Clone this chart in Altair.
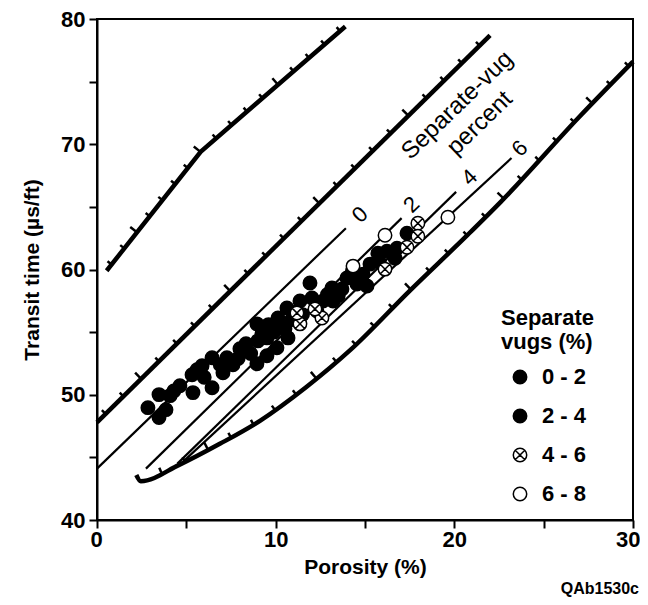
import altair as alt
import pandas as pd
import numpy as np

# ---------------- data ----------------
# scatter points: porosity (%) and transit time (us/ft) by separate-vug class
POR_02 = [2.85, 3.47, 4.09, 3.86, 3.47, 4.64, 5.32, 5.37, 5.88, 6.44, 7.05, 7.27, 7.61,
          8.00, 8.34, 8.95, 9.51, 10.07, 10.69, 4.3, 6.0, 7.9, 9.0, 9.9, 5.6, 6.9, 8.6]
TT_02 = [48.97, 50.01, 49.93, 48.81, 48.18, 50.72, 51.60, 50.17, 52.31, 52.95, 51.76, 52.95,
         52.39, 53.67, 54.07, 52.47, 53.11, 53.75, 54.54, 50.3, 51.4, 52.9, 54.3, 55.0,
         52.0, 52.4, 53.3]
POR_24 = [6.44, 8.95, 9.23, 9.51, 10.13, 10.63, 10.52, 11.36, 11.92, 12.03, 12.31, 12.65,
          13.15, 13.21, 13.71, 13.99, 14.55, 14.89, 15.11, 15.28, 15.72, 16.23, 16.68, 16.79, 17.35,
          9.6, 10.9, 12.9, 14.3, 15.8, 11.5, 10.3, 11.1, 13.5]
TT_24 = [50.56, 55.66, 54.86, 54.54, 56.13, 56.93, 55.26, 57.49, 58.92, 57.72, 56.69, 57.49,
         58.52, 57.49, 58.44, 59.32, 58.84, 59.63, 58.68, 60.43, 61.30, 61.46, 60.91, 61.70, 62.90,
         55.6, 56.0, 58.0, 59.9, 60.6, 56.4, 55.5, 56.6, 57.9]
POR_46 = [11.36, 12.59, 16.12, 17.35, 17.96, 17.96, 11.19, 12.20]
TT_46 = [55.66, 56.13, 60.03, 61.78, 63.69, 62.66, 56.53, 56.85]
POR_68 = [14.33, 16.12, 19.64]
TT_68 = [60.27, 62.74, 64.17]
CLASSES = ["0 - 2", "2 - 4", "4 - 6", "6 - 8"]

# thick bounding curves
TOP_X = [0.54, 5.8, 13.9]
TOP_Y = [59.9, 69.4, 79.4]
MID_X = [0.0, 22.0]
MID_Y = [47.8, 78.7]
BOT_X = [2.2, 2.45, 4.6, 6.9, 9.1, 11.7, 14.2, 17.5, 20.7, 22.6, 27.0, 30.0]
BOT_Y = [43.6, 43.1, 44.4, 46.1, 47.9, 50.6, 53.6, 58.3, 62.7, 65.4, 72.2, 76.6]

# thin separate-vug percent lines (start / end)
VUG_LINES = ["0", "2", "4", "6"]
VUG_X0 = [0.0, 2.74, 4.5, 4.85]
VUG_Y0 = [44.1, 44.1, 44.5, 44.7]
VUG_X1 = [13.93, 17.05, 20.1, 23.2]
VUG_Y1 = [63.3, 64.1, 66.2, 68.9]

# line labels
NUM_TEXT = ["0", "2", "4", "6"]
NUM_X = [14.72, 17.61, 20.85, 23.67]
NUM_Y = [64.38, 65.18, 67.35, 69.66]
WORD_TEXT = ["Separate-vug", "percent"]
WORD_X = [20.17, 21.43]
WORD_Y = [73.1, 71.67]

# ---------------- layout constants ----------------
W, H = 536, 501
XMIN, XMAX, YMIN, YMAX = 0, 30, 40, 80
PXX = W / (XMAX - XMIN)
PXY = H / (YMAX - YMIN)
FONT = "Liberation Sans"

XSCALE = alt.Scale(domain=[XMIN, XMAX], nice=False, zero=False)
YSCALE = alt.Scale(domain=[YMIN, YMAX], nice=False, zero=False)
XAXIS = alt.Axis(title="Porosity (%)", values=list(range(0, 31, 5)),
                 labelExpr="datum.value % 10 == 0 ? datum.label : ''",
                 labelFlush=True, labelFlushOffset=7)
YAXIS = alt.Axis(title="Transit time (µs/ft)", values=list(range(40, 81, 5)),
                 labelExpr="datum.value % 10 == 0 ? datum.label : ''", labelFlush=False)

# ---------------- tables ----------------
pts = pd.concat([
    pd.DataFrame({"x": POR_02, "y": TT_02, "cls": CLASSES[0]}),
    pd.DataFrame({"x": POR_24, "y": TT_24, "cls": CLASSES[1]}),
    pd.DataFrame({"x": POR_46, "y": TT_46, "cls": CLASSES[2]}),
    pd.DataFrame({"x": POR_68, "y": TT_68, "cls": CLASSES[3]}),
], ignore_index=True)
pts["ord"] = range(len(pts))

straight = pd.concat([
    pd.DataFrame({"x": TOP_X, "y": TOP_Y, "c": "top", "o": range(len(TOP_X))}),
    pd.DataFrame({"x": MID_X, "y": MID_Y, "c": "mid", "o": range(len(MID_X))}),
], ignore_index=True)
bottom = pd.DataFrame({"x": BOT_X, "y": BOT_Y, "o": range(len(BOT_X))})

thin = pd.DataFrame({"x": VUG_X0 + VUG_X1, "y": VUG_Y0 + VUG_Y1,
                     "c": VUG_LINES + VUG_LINES, "o": [0] * 4 + [1] * 4})


def hatch(xs, ys, spacing, start):
    """tick marks along a curve, evenly spaced in screen length"""
    xs = np.asarray(xs, float)
    ys = np.asarray(ys, float)
    px = xs * PXX
    py = -ys * PXY
    seg = np.hypot(np.diff(px), np.diff(py))
    cum = np.concatenate([[0], np.cumsum(seg)])
    rows = []
    k = 0
    s = start
    while s < cum[-1] - 4:
        i = min(np.searchsorted(cum, s, side="right") - 1, len(seg) - 1)
        t = (s - cum[i]) / seg[i]
        x = xs[i] + t * (xs[i + 1] - xs[i])
        y = ys[i] + t * (ys[i + 1] - ys[i])
        ang = np.degrees(np.arctan2((ys[i + 1] - ys[i]) * PXY, (xs[i + 1] - xs[i]) * PXX))
        rows.append({"x": x, "y": y, "ang": (360 - ang) % 360, "big": k % 5 == 2})
        k += 1
        s += spacing
    return rows


ticks = pd.DataFrame(hatch(TOP_X, TOP_Y, 20.5, 8) + hatch(MID_X, MID_Y, 25, 12)
                     + hatch(BOT_X, BOT_Y, 26, 30))
ticks_small = ticks[~ticks["big"]].drop(columns="big")
ticks_big = ticks[ticks["big"]].drop(columns="big")

nums = pd.DataFrame({"t": NUM_TEXT, "x": NUM_X, "y": NUM_Y})
words = pd.DataFrame({"t": WORD_TEXT, "x": WORD_X, "y": WORD_Y})


# ---------------- chart ----------------
def X():
    return alt.X("x:Q", scale=XSCALE, axis=XAXIS)


def Y():
    return alt.Y("y:Q", scale=YSCALE, axis=YAXIS)


straight_layer = alt.Chart(straight).mark_line(color="black", strokeWidth=4.5).encode(
    x=X(), y=Y(), detail="c:N", order="o:Q")

bottom_layer = alt.Chart(bottom).mark_line(color="black", strokeWidth=4.5,
                                           interpolate="monotone").encode(
    x=X(), y=Y(), order="o:Q")

thin_layer = alt.Chart(thin).mark_line(color="black", strokeWidth=2.2).encode(
    x=X(), y=Y(), detail="c:N", order="o:Q")


def tick_layer(df, size):
    return alt.Chart(df).mark_point(shape="M0,0L0,-1", stroke="black", strokeWidth=2.5,
                                    filled=False, opacity=1, size=size).encode(
        x=X(), y=Y(), angle=alt.Angle("ang:Q", scale=None))


XMARK = "M1,0A1,1,0,1,1,-1,0A1,1,0,1,1,1,0ZM-0.68,-0.68L0.68,0.68M-0.68,0.68L0.68,-0.68"
leg = alt.Legend(title=["Separate", "vugs (%)"], orient="none", legendX=404, legendY=289,
                 symbolStrokeColor="black", symbolStrokeWidth=1.5, symbolOffset=8)
point_layer = alt.Chart(pts).mark_point(strokeWidth=1.5, opacity=1,
                                        fillOpacity=1, strokeOpacity=1).encode(
    x=X(), y=Y(),
    shape=alt.Shape("cls:O", scale=alt.Scale(domain=CLASSES,
                                             range=["circle", "circle", XMARK, "circle"]), legend=leg),
    fill=alt.Fill("cls:O", scale=alt.Scale(domain=CLASSES,
                                           range=["black", "black", "white", "white"]), legend=leg),
    stroke=alt.Stroke("cls:O", scale=alt.Scale(domain=CLASSES,
                                               range=["black", "black", "black", "black"]), legend=leg),
    size=alt.Size("cls:O", scale=alt.Scale(domain=CLASSES, range=[180, 180, 125, 160]), legend=leg),
    order="ord:Q")

num_layer = alt.Chart(nums).mark_text(font=FONT, fontSize=22, angle=316, color="black",
                                      align="center", baseline="middle").encode(
    x=X(), y=Y(), text="t:N")
word_layer = alt.Chart(words).mark_text(font=FONT, fontSize=24, angle=316, color="black",
                                        align="center", baseline="middle").encode(
    x=X(), y=Y(), text="t:N")

chart = alt.layer(straight_layer, bottom_layer, thin_layer, tick_layer(ticks_small, 110),
                  tick_layer(ticks_big, 300), point_layer, num_layer, word_layer).properties(
    width=W, height=H,
    autosize=alt.AutoSizeParams(type="none"),
    padding={"left": 89, "top": 11, "right": 7, "bottom": 77},
    title=alt.TitleParams("QAb1530c", orient="bottom", anchor="end", font=FONT,
                          fontSize=16, fontWeight="bold", color="black", offset=4, dx=-3),
).configure_view(stroke="black", strokeWidth=2).configure_axis(
    grid=False, domainColor="black", domainWidth=2, tickColor="black", tickWidth=2,
    tickSize=8, labelFont=FONT, labelFontSize=22, labelFontWeight="bold", labelColor="black",
    labelPadding=4, titleFont=FONT, titleFontSize=21, titleFontWeight="bold",
    titleColor="black",
).configure_axisY(titlePadding=18).configure_axisX(titlePadding=6, labelPadding=1).configure_legend(
    titleFont=FONT, titleFontSize=22, titleFontWeight="bold", titleColor="black",
    titleLineHeight=24, labelFont=FONT, labelFontSize=22, labelFontWeight="bold",
    labelColor="black", rowPadding=17, labelOffset=11, titlePadding=12)

chart.save("out.html", embed_options={"renderer": "svg", "actions": False})
